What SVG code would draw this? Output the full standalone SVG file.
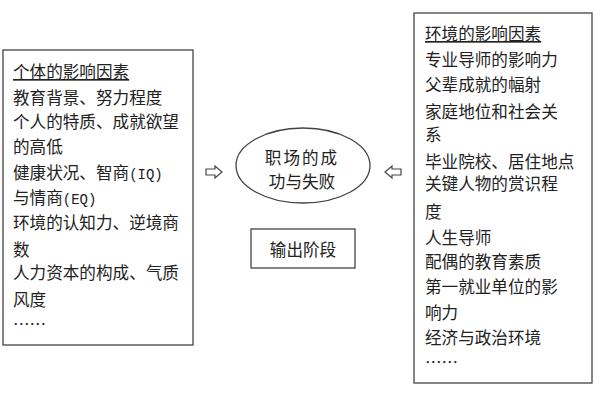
<svg xmlns="http://www.w3.org/2000/svg" width="600" height="400" viewBox="0 0 600 400">
<style>
.box{fill:#fff;stroke:#444;stroke-width:1.3}
.t{font-family:"Noto Sans CJK SC","Noto Sans",sans-serif;font-size:16.6px;fill:#222}
.m{font-family:"Liberation Mono","DejaVu Sans Mono",monospace;font-size:14px}
.arr{fill:#fff;stroke:#444;stroke-width:1.2;stroke-linejoin:miter}
</style>
<rect width="600" height="400" fill="#fff"/>
<g id="left-box">
<rect class="box" x="3" y="50" width="190" height="295"/>
<text class="t" x="13" y="78" text-decoration="underline">个体的影响因素</text>
<text class="t" x="13" y="104">教育背景、努力程度</text>
<text class="t" x="13" y="128">个人的特质、成就欲望</text>
<text class="t" x="13" y="153">的高低</text>
<text class="t" x="13" y="179">健康状况、智商<tspan class="m">(IQ)</tspan></text>
<text class="t" x="13" y="204">与情商<tspan class="m">(EQ)</tspan></text>
<text class="t" x="13" y="229">环境的认知力、逆境商</text>
<text class="t" x="13" y="256">数</text>
<text class="t" x="13" y="279">人力资本的构成、气质</text>
<text class="t" x="13" y="306">风度</text>
<text class="t" x="13" y="331">……</text>
</g>
<g id="right-box">
<rect class="box" x="414" y="13" width="178" height="370"/>
<text class="t" x="425" y="40" text-decoration="underline">环境的影响因素</text>
<text class="t" x="425" y="66">专业导师的影响力</text>
<text class="t" x="425" y="91">父辈成就的幅射</text>
<text class="t" x="425" y="118">家庭地位和社会关</text>
<text class="t" x="425" y="141">系</text>
<text class="t" x="425" y="168">毕业院校、居住地点</text>
<text class="t" x="425" y="190">关键人物的赏识程</text>
<text class="t" x="425" y="218">度</text>
<text class="t" x="425" y="244">人生导师</text>
<text class="t" x="425" y="268">配偶的教育素质</text>
<text class="t" x="425" y="293">第一就业单位的影</text>
<text class="t" x="425" y="319">响力</text>
<text class="t" x="425" y="344">经济与政治环境</text>
<text class="t" x="425" y="369">……</text>
</g>
<g id="center-ellipse">
<ellipse class="box" cx="303" cy="165.5" rx="67" ry="37.5"/>
<text class="t" x="302" y="164" text-anchor="middle" letter-spacing="2">职场的成</text>
<text class="t" x="302" y="188" text-anchor="middle">功与失败</text>
</g>
<g id="output-stage">
<rect class="box" x="251" y="229" width="104" height="39"/>
<text class="t" x="303" y="256" text-anchor="middle">输出阶段</text>
</g>
<g id="connectors">
<path class="arr" d="M206,169 H215 V166 L222,172 L215,178 V175 H206 Z"/>
<path class="arr" d="M401,169 H392 V166 L385,172 L392,178 V175 H401 Z"/>
</g>
</svg>
